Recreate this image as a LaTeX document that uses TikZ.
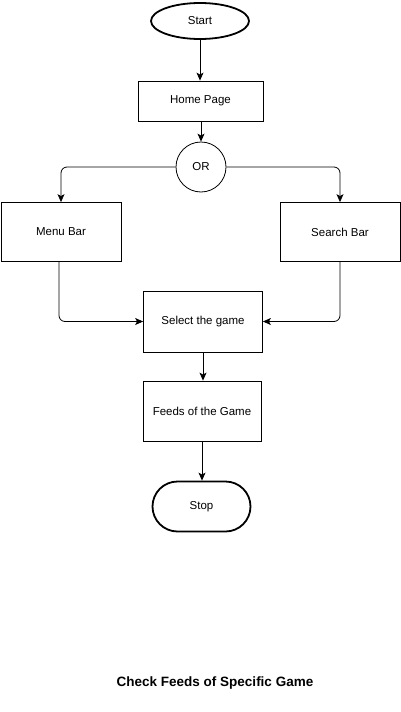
\documentclass[tikz,border=0pt]{standalone}
\usepackage{fontspec}
\setmainfont{Liberation Sans}
\usetikzlibrary{arrows.meta,shapes.geometric}
\begin{document}
\begin{tikzpicture}[x=1pt,y=-1pt,
  box/.style={draw,line width=0.8pt,minimum width=120pt,minimum height=60pt,inner sep=0pt,font=\fontsize{11.5}{13}\selectfont},
  term/.style={draw,line width=1.8pt,inner sep=0pt,font=\fontsize{11.5}{13}\selectfont},
  conn/.style={line width=0.8pt,-{Stealth[length=8pt,width=7pt,inset=2pt]},rounded corners=6pt}]
\useasboundingbox (0,0) rectangle (401,712);
\node[term,ellipse,minimum width=98pt,minimum height=36pt] (start) at (200,21) {Start};
\node[box,minimum width=125pt,minimum height=40pt] (home) at (200.5,101) {Home Page};
\node[draw,circle,line width=0.8pt,minimum size=50pt,inner sep=0pt,font=\fontsize{11.5}{13}\selectfont] (or) at (201,167) {OR};
\node[box,minimum height=59pt] (menu) at (61,232) {Menu Bar};
\node[box,minimum height=59pt] (search) at (340,232) {Search Bar};
\node[box,minimum width=119pt,minimum height=61pt] (select) at (203,321.5) {Select the game};
\node[box,minimum width=118pt,minimum height=60pt] (feeds) at (202,411) {Feeds of the Game};
\node[term,rounded corners=25pt,minimum width=98pt,minimum height=50pt] (stop) at (201.5,506.5) {Stop};
\node[font=\fontsize{13.5}{16}\bfseries] (title) at (215,683) {Check Feeds of Specific Game};
\draw[conn] (start) -- (start |- home.north);
\draw[conn] (home.south -| or) -- (or);
\draw[conn] (or.west) -| (menu.north);
\draw[conn] (or.east) -| (search.north);
\draw[conn] ([xshift=-2pt]menu.south) |- (select.west);
\draw[conn] (search.south) |- (select.east);
\draw[conn] (select.south) -- (select.south |- feeds.north);
\draw[conn] (feeds.south) -- (feeds.south |- stop.north);
\end{tikzpicture}
\end{document}
